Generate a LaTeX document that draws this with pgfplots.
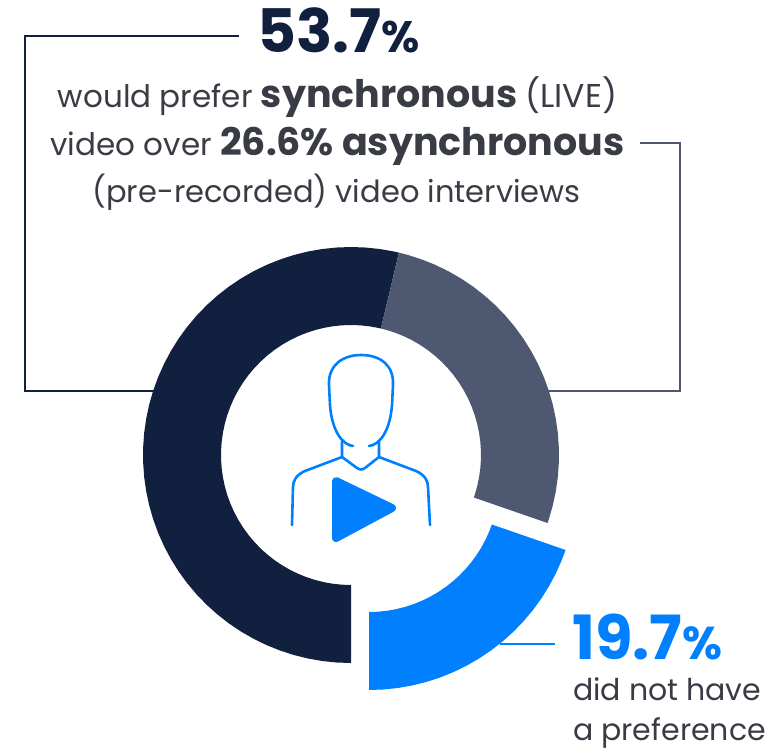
\documentclass[border=0pt]{standalone}
\usepackage{fontspec}
\setmainfont{Poppins}
\usepackage{pgfplots}
\pgfplotsset{compat=1.18}
\usepgfplotslibrary{polar}
\definecolor{navy}{HTML}{12203F}
\definecolor{slate}{HTML}{4E5870}
\definecolor{azure}{HTML}{0080FF}
\definecolor{ink}{HTML}{393C44}
\newcommand{\fs}[1]{\fontsize{#1}{#1}\selectfont}
% One ring frame: radius scale is one point per unit, centred on the given position
\pgfplotsset{ring/.style={
  hide axis, scale only axis, width=500pt, height=500pt, clip=false,
  xmin=0, xmax=360, ymin=0, ymax=250, anchor=center}}
\begin{document}
\begin{tikzpicture}[x=1pt,y=-1pt]
\path[use as bounding box] (0,0) rectangle (774,748);

% Leader lines run behind the ring
\draw[navy,line width=2.5pt] (239,36) -- (25,36) -- (25,391) -- (155,391);
\draw[slate,line width=2.5pt] (640,143) -- (680,143) -- (680,391) -- (548,391);
\draw[azure,line width=2.5pt] (500,644) -- (555,644);

% Synchronous 53.7 %  and asynchronous 26.6 %
\begin{polaraxis}[ring, at={(351pt,-455pt)}]
\addplot[fill=navy,draw=none] coordinates {
 (270,208) (266,208) (262,208) (258,208) (254,208) (250,208) (246,208) (242,208) (238,208) (234,208)
 (230,208) (226,208) (222,208) (218,208) (214,208) (210,208) (206,208) (202,208) (198,208) (194,208)
 (190,208) (186,208) (182,208) (178,208) (174,208) (170,208) (166,208) (162,208) (158,208) (154,208)
 (150,208) (146,208) (142,208) (138,208) (134,208) (130,208) (126,208) (122,208) (118,208) (114,208)
 (110,208) (106,208) (102,208) (98,208) (94,208) (90,208) (86,208) (82,208) (78,208) (76.68,208)
 (76.68,130) (78,130) (82,130) (86,130) (90,130) (94,130) (98,130) (102,130) (106,130) (110,130)
 (114,130) (118,130) (122,130) (126,130) (130,130) (134,130) (138,130) (142,130) (146,130) (150,130)
 (154,130) (158,130) (162,130) (166,130) (170,130) (174,130) (178,130) (182,130) (186,130) (190,130)
 (194,130) (198,130) (202,130) (206,130) (210,130) (214,130) (218,130) (222,130) (226,130) (230,130)
 (234,130) (238,130) (242,130) (246,130) (250,130) (254,130) (258,130) (262,130) (266,130) (270,130)
} -- cycle;
\addplot[fill=slate,draw=none] coordinates {
 (76.68,208) (74,208) (70,208) (66,208) (62,208) (58,208) (54,208) (50,208) (46,208) (42,208)
 (38,208) (34,208) (30,208) (26,208) (22,208) (18,208) (14,208) (10,208) (6,208) (2,208)
 (-2,208) (-6,208) (-10,208) (-14,208) (-18,208) (-19.08,208)
 (-19.08,130) (-18,130) (-14,130) (-10,130) (-6,130) (-2,130) (2,130) (6,130) (10,130) (14,130)
 (18,130) (22,130) (26,130) (30,130) (34,130) (38,130) (42,130) (46,130) (50,130) (54,130)
 (58,130) (62,130) (66,130) (70,130) (74,130) (76.68,130)
} -- cycle;
\end{polaraxis}

% No preference 19.7 %, pulled out of the ring
\begin{polaraxis}[ring, at={(369pt,-482pt)}]
\addplot[fill=azure,draw=none] coordinates {
 (-19.08,208) (-22,208) (-26,208) (-30,208) (-34,208) (-38,208) (-42,208) (-46,208) (-50,208) (-54,208)
 (-58,208) (-62,208) (-66,208) (-70,208) (-74,208) (-78,208) (-82,208) (-86,208) (-90,208)
 (-90,130) (-86,130) (-82,130) (-78,130) (-74,130) (-70,130) (-66,130) (-62,130) (-58,130) (-54,130)
 (-50,130) (-46,130) (-42,130) (-38,130) (-34,130) (-30,130) (-26,130) (-22,130) (-19.08,130)
} -- cycle;
\end{polaraxis}

% Person with a play button
\draw[azure,line width=2.6pt,line cap=round,line join=round]
 (353,446) .. controls (343,445) and (332,432) .. (330,405) -- (329,385)
 .. controls (328,365) and (343,355) .. (361,355)
 .. controls (380,355) and (394,365) .. (393,385) -- (392,405)
 .. controls (390,432) and (379,445) .. (369,446);
\draw[azure,line width=2.6pt,line cap=round,line join=round]
 (342,442) -- (342,457) -- (357,468) .. controls (360,470) and (362,470) .. (365,468) -- (379,457) -- (379,442);
\draw[azure,line width=2.6pt,line cap=round,line join=round]
 (342,457) -- (305,471) .. controls (296,475) and (293,481) .. (293,487) -- (292,525);
\draw[azure,line width=2.6pt,line cap=round,line join=round]
 (379,457) -- (416,471) .. controls (425,475) and (428,481) .. (428,487) -- (430,525);
\fill[azure,draw=azure,line width=8pt,line join=round] (336,481) -- (336,538) -- (392,508) -- cycle;

% Callout texts
\node[anchor=base west,inner sep=0,text=navy] at (257,52) {\fs{60}\bfseries 53.7\fs{44}\%};
\node[anchor=base,inner sep=0,text=ink] at (337.5,107) {\fs{31}would prefer \fs{38}\bfseries synchronous \fs{33}\mdseries (LIVE)};
\node[anchor=base,inner sep=0,text=ink] at (337.5,155) {\fs{31}video over \fs{38}\bfseries 26.6\% asynchronous};
\node[anchor=base,inner sep=0,text=ink] at (336.5,202) {\fs{30.5}(pre-recorded) video interviews};
\node[anchor=base west,inner sep=0,text=azure] at (572,659) {\fs{61}\bfseries 19.7\fs{46}\%};
\node[anchor=base west,inner sep=0,text=ink] at (573,700) {\fs{30}did not have};
\node[anchor=base west,inner sep=0,text=ink] at (573,740) {\fs{30}a preference};
\end{tikzpicture}
\end{document}
